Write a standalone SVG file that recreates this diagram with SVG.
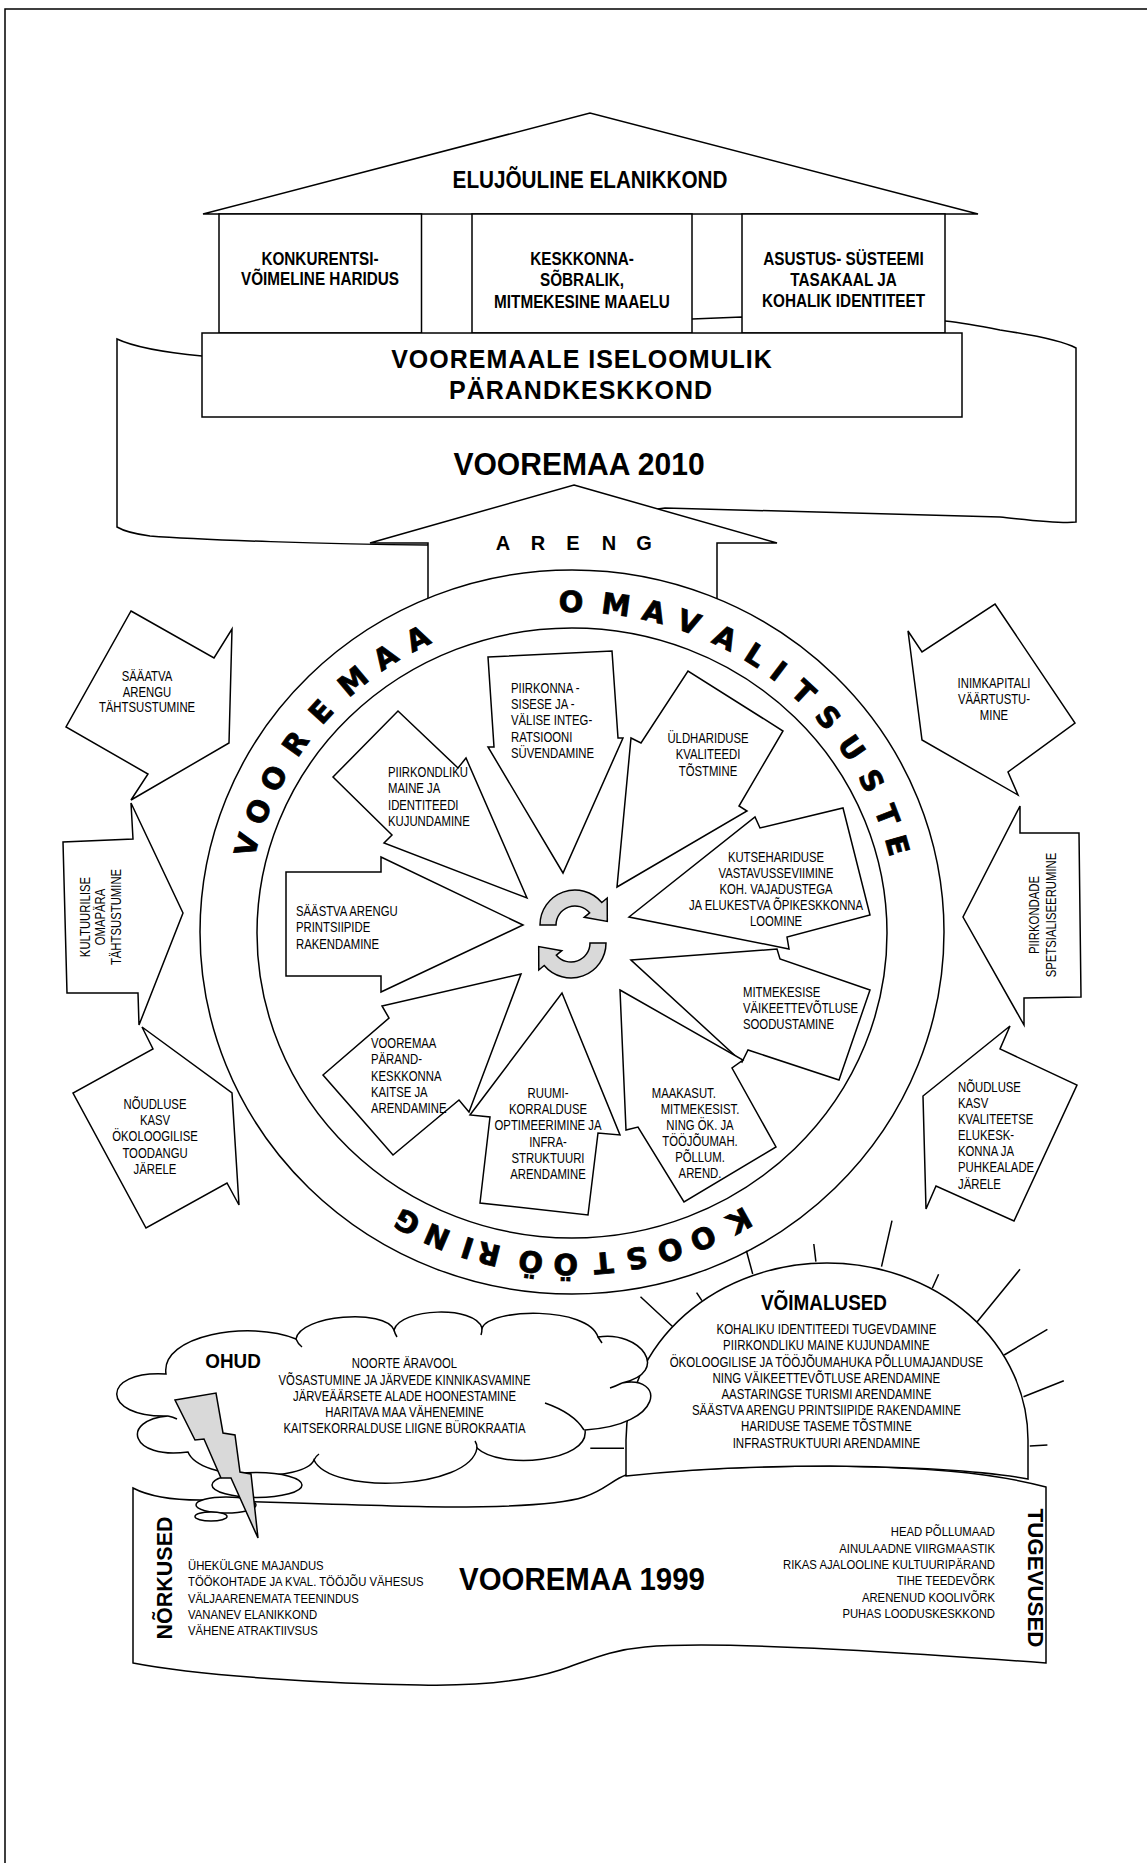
<svg xmlns="http://www.w3.org/2000/svg" width="1147" height="1863" viewBox="0 0 1147 1863">
<style>
.s{fill:#fff;stroke:#000;stroke-width:1.5;stroke-linejoin:miter}
.ln{fill:none;stroke:#000;stroke-width:1.5}
.t{font-family:"Liberation Sans",Arial,sans-serif;font-size:14px;fill:#000}
.m{text-anchor:middle}
.e{text-anchor:end}
.b{font-weight:bold}
.r{font-family:"DejaVu Sans","Liberation Sans",sans-serif;font-weight:bold;font-size:29px;text-anchor:middle;fill:#000;stroke:#000;stroke-width:0.8}
.g{fill:#d9d9d9;stroke:#000;stroke-width:1.5}
</style>
<defs>
<path id="ring" d="M245,933 A327,321 0 1 1 899,933 A327,321 0 1 1 245,933"/>
</defs>
<rect width="1147" height="1863" fill="#fff"/>
<path class="ln" d="M5,1863 V9 H1147" stroke-width="2"/>

<g id="banner2010">
<path class="s" d="M117,339 C134,347 160,352 202,356 C400,345 600,322 692,319 L742,317 L945,321 C965,323 985,327 1000,330 C1040,336 1065,342 1076,348 L1076,522 C1060,524 1030,520 1000,517 L665,508 L574,520 L427,545 C330,544 200,540 150,536 C135,534 122,530 117,527 Z"/>
<text class="t b m" style="font-size:32px" transform="translate(579,475) scale(0.94,1)">VOOREMAA 2010</text>
</g>

<g id="house">
<polygon class="s" points="203,214 590,113 978,214"/>
<text class="t b m" style="font-size:23px" transform="translate(590,188) scale(0.9,1)">ELUJÕULINE ELANIKKOND</text>
<rect class="s" x="219" y="214" width="202.5" height="119"/>
<rect class="s" x="472" y="214" width="220" height="119"/>
<rect class="s" x="742" y="214" width="203" height="119"/>
<text class="t b m" style="font-size:18px" transform="translate(320,265) scale(0.85,1)"><tspan x="0" y="0">KONKURENTSI-</tspan><tspan x="0" y="20.5">VÕIMELINE HARIDUS</tspan></text>
<text class="t b m" style="font-size:18px" transform="translate(582,265) scale(0.85,1)"><tspan x="0" y="0">KESKKONNA-</tspan><tspan x="0" y="21.5">SÕBRALIK,</tspan><tspan x="0" y="43">MITMEKESINE MAAELU</tspan></text>
<text class="t b m" style="font-size:18px" transform="translate(843.5,265) scale(0.85,1)"><tspan x="0" y="0">ASUSTUS- SÜSTEEMI</tspan><tspan x="0" y="21.5">TASAKAAL JA</tspan><tspan x="0" y="42">KOHALIK IDENTITEET</tspan></text>
<rect class="s" x="202" y="333" width="760" height="84"/>
<text class="t b m" style="font-size:25px;letter-spacing:1px"><tspan x="582" y="368">VOOREMAALE ISELOOMULIK</tspan><tspan x="581" y="399">PÄRANDKESKKOND</tspan></text>
</g>

<g id="areng">
<polygon class="s" points="574,485 777,543 717,543 717,640 428,640 428,543 370,543"/>
<text class="t b m" style="font-size:20px" x="503 538 573 609 644" y="550">ARENG</text>
</g>

<g id="ring-wheel">
<ellipse class="s" cx="572" cy="932" rx="372" ry="362" stroke-width="2"/>
<ellipse class="s" cx="572" cy="933" rx="315" ry="305"/>
</g>

<g id="ring-text">
<text class="r"><textPath href="#ring" startOffset="86.5">V</textPath></text>
<text class="r"><textPath href="#ring" startOffset="120.5">O</textPath></text>
<text class="r"><textPath href="#ring" startOffset="156.1">O</textPath></text>
<text class="r"><textPath href="#ring" startOffset="195.7">R</textPath></text>
<text class="r"><textPath href="#ring" startOffset="235.3">E</textPath></text>
<text class="r"><textPath href="#ring" startOffset="278.2">M</textPath></text>
<text class="r"><textPath href="#ring" startOffset="317.3">A</textPath></text>
<text class="r"><textPath href="#ring" startOffset="353.4">A</textPath></text>
<text class="r"><textPath href="#ring" startOffset="507.8">O</textPath></text>
<text class="r"><textPath href="#ring" startOffset="551.9">M</textPath></text>
<text class="r"><textPath href="#ring" startOffset="589.3">A</textPath></text>
<text class="r"><textPath href="#ring" startOffset="624.3">V</textPath></text>
<text class="r"><textPath href="#ring" startOffset="662.8">A</textPath></text>
<text class="r"><textPath href="#ring" startOffset="696.7">L</textPath></text>
<text class="r"><textPath href="#ring" startOffset="723.8">I</textPath></text>
<text class="r"><textPath href="#ring" startOffset="755.5">T</textPath></text>
<text class="r"><textPath href="#ring" startOffset="789.4">S</textPath></text>
<text class="r"><textPath href="#ring" startOffset="826.8">U</textPath></text>
<text class="r"><textPath href="#ring" startOffset="864.1">S</textPath></text>
<text class="r"><textPath href="#ring" startOffset="900.8">T</textPath></text>
<text class="r"><textPath href="#ring" startOffset="931.4">E</textPath></text>
<text class="r"><textPath href="#ring" startOffset="1356.6">K</textPath></text>
<text class="r"><textPath href="#ring" startOffset="1395.7">O</textPath></text>
<text class="r"><textPath href="#ring" startOffset="1429.6">O</textPath></text>
<text class="r"><textPath href="#ring" startOffset="1463">S</textPath></text>
<text class="r"><textPath href="#ring" startOffset="1495.8">T</textPath></text>
<text class="r"><textPath href="#ring" startOffset="1532.5">Ö</textPath></text>
<text class="r"><textPath href="#ring" startOffset="1566.4">Ö</textPath></text>
<text class="r"><textPath href="#ring" startOffset="1607.7">R</textPath></text>
<text class="r"><textPath href="#ring" startOffset="1629.2">I</textPath></text>
<text class="r"><textPath href="#ring" startOffset="1660.9">N</textPath></text>
<text class="r"><textPath href="#ring" startOffset="1693.1">G</textPath></text>
</g>

<g id="a-piirkonna">
<polygon class="s" points="488,657 612,651 618,738 623,738 563,873 488,747 494,747"/>
<text class="t" transform="translate(511,693) scale(0.81,1)"><tspan x="0" y="0">PIIRKONNA -</tspan><tspan x="0" y="16.2">SISESE JA  -</tspan><tspan x="0" y="32.4">VÄLISE  INTEG-</tspan><tspan x="0" y="48.6">RATSIOONI</tspan><tspan x="0" y="64.8">SÜVENDAMINE</tspan></text>
</g>
<g id="a-yldhariduse">
<polygon class="s" points="617,887 631,738 641,743 688,671 783,731 739,806 747,811"/>
<text class="t m" transform="translate(708,743) scale(0.81,1)"><tspan x="0" y="0">ÜLDHARIDUSE</tspan><tspan x="0" y="16.3">KVALITEEDI</tspan><tspan x="0" y="32.6">TÕSTMINE</tspan></text>
</g>
<g id="a-kutsehariduse">
<polygon class="s" points="629,917 755,817 760,828 843,808 870,915 787,937 789,949"/>
<text class="t m" transform="translate(776,862) scale(0.81,1)"><tspan x="0" y="0">KUTSEHARIDUSE</tspan><tspan x="0" y="16">VASTAVUSSEVIIMINE</tspan><tspan x="0" y="32">KOH. VAJADUSTEGA</tspan><tspan x="0" y="48">JA ELUKESTVA ÕPIKESKKONNA</tspan><tspan x="0" y="64">LOOMINE</tspan></text>
</g>
<g id="a-mitmekesise">
<polygon class="s" points="631,960 777,949 780,959 870,990 839,1080 748,1050 742,1062"/>
<text class="t" transform="translate(743,997) scale(0.81,1)"><tspan x="0" y="0">MITMEKESISE</tspan><tspan x="0" y="16.2">VÄIKEETTEVÕTLUSE</tspan><tspan x="0" y="32.4">SOODUSTAMINE</tspan></text>
</g>
<g id="a-maakasut">
<polygon class="s" points="620,990 743,1060 732,1068 776,1147 684,1202 638,1127 626,1130"/>
<text class="t m" transform="translate(700,1098) scale(0.81,1)"><tspan x="-20" y="0">MAAKASUT.</tspan><tspan x="0" y="16.1">MITMEKESIST.</tspan><tspan x="0" y="32.2">NING ÖK. JA</tspan><tspan x="0" y="48.3">TÖÖJÕUMAH.</tspan><tspan x="0" y="64.4">PÕLLUM.</tspan><tspan x="0" y="80.5">AREND.</tspan></text>
</g>
<g id="a-ruumi">
<polygon class="s" points="562,993 620,1135 598,1133 588,1215 480,1203 490,1117 470,1115"/>
<text class="t m" transform="translate(548,1098) scale(0.81,1)"><tspan x="0" y="0">RUUMI-</tspan><tspan x="0" y="16.2">KORRALDUSE</tspan><tspan x="0" y="32.4">OPTIMEERIMINE JA</tspan><tspan x="0" y="48.6">INFRA-</tspan><tspan x="0" y="64.8">STRUKTUURI</tspan><tspan x="0" y="81">ARENDAMINE</tspan></text>
</g>
<g id="a-parand">
<polygon class="s" points="521,974 382,1006 389,1018 323,1075 393,1155 459,1100 469,1112"/>
<text class="t" transform="translate(371,1048) scale(0.81,1)"><tspan x="0" y="0">VOOREMAA</tspan><tspan x="0" y="16.3">PÄRAND-</tspan><tspan x="0" y="32.6">KESKKONNA</tspan><tspan x="0" y="48.9">KAITSE JA</tspan><tspan x="0" y="65.2">ARENDAMINE</tspan></text>
</g>
<g id="a-saastva">
<polygon class="s" points="523,925 381,857 381,872 286,872 286,976 381,976 381,992"/>
<text class="t" transform="translate(296,916) scale(0.81,1)"><tspan x="0" y="0">SÄÄSTVA  ARENGU</tspan><tspan x="0" y="16.3">PRINTSIIPIDE</tspan><tspan x="0" y="32.6">RAKENDAMINE</tspan></text>
</g>
<g id="a-piirkondliku">
<polygon class="s" points="527,898 466,758 458,768 398,711 333,777 392,835 384,843"/>
<text class="t" transform="translate(388,777) scale(0.81,1)"><tspan x="0" y="0">PIIRKONDLIKU</tspan><tspan x="0" y="16.3">MAINE  JA</tspan><tspan x="0" y="32.6">IDENTITEEDI</tspan><tspan x="0" y="48.9">KUJUNDAMINE</tspan></text>
</g>

<g id="cycle">
<path id="cyc" class="g" d="M540,925 A35,35 0 0 1 601.8,902.5 L607.2,898 L607.3,921.4 L584.2,917.3 L589.6,912.8 A19,19 0 0 0 556,925 Z"/>
<use href="#cyc" transform="rotate(180 573 934)"/>
</g>

<g id="o-saaatva">
<polygon class="s" points="131,611 214,658 232,629 229,743 131,800 148,774 66,727"/>
<text class="t m" transform="translate(147,681) scale(0.81,1)"><tspan x="0" y="0">SÄÄATVA</tspan><tspan x="0" y="15.7">ARENGU</tspan><tspan x="0" y="31.4">TÄHTSUSTUMINE</tspan></text>
</g>
<g id="o-kultuurilise">
<polygon class="s" points="131,803 183,913 139,1025 138,993 67,993 63,842 133,839"/>
<text class="t m" transform="translate(90,917) rotate(-90) scale(0.81,1)"><tspan x="0" y="0">KULTUURILISE</tspan><tspan x="0" y="15.5">OMAPÄRA</tspan><tspan x="0" y="31">TÄHTSUSTUMINE</tspan></text>
</g>
<g id="o-okoloogilise">
<polygon class="s" points="142,1027 232,1093 239,1205 227,1183 146,1228 73,1093 153,1049"/>
<text class="t m" transform="translate(155,1109) scale(0.81,1)"><tspan x="0" y="0">NÕUDLUSE</tspan><tspan x="0" y="16.2">KASV</tspan><tspan x="0" y="32.4">ÖKOLOOGILISE</tspan><tspan x="0" y="48.6">TOODANGU</tspan><tspan x="0" y="64.8">JÄRELE</tspan></text>
</g>
<g id="o-inimkapitali">
<polygon class="s" points="995,604 1075,723 1008,772 1018,795 922,740 908,631 922,652"/>
<text class="t m" transform="translate(994,688) scale(0.81,1)"><tspan x="0" y="0">INIMKAPITALI</tspan><tspan x="0" y="16.2">VÄÄRTUSTU-</tspan><tspan x="0" y="32.4">MINE</tspan></text>
</g>
<g id="o-piirkondade">
<polygon class="s" points="1020,806 1020,833 1079,833 1081,997 1024,998 1024,1025 963,917"/>
<text class="t m" transform="translate(1039,915) rotate(-90) scale(0.81,1)"><tspan x="0" y="0">PIIRKONDADE</tspan><tspan x="0" y="17">SPETSIALISEERUMINE</tspan></text>
</g>
<g id="o-kvaliteetse">
<polygon class="s" points="1010,1026 1000,1049 1077,1085 1014,1221 936,1186 926,1209 923,1096"/>
<text class="t" transform="translate(958,1092) scale(0.81,1)"><tspan x="0" y="0">NÕUDLUSE</tspan><tspan x="0" y="16.1">KASV</tspan><tspan x="0" y="32.2">KVALITEETSE</tspan><tspan x="0" y="48.3">ELUKESK-</tspan><tspan x="0" y="64.4">KONNA  JA</tspan><tspan x="0" y="80.5">PUHKEALADE</tspan><tspan x="0" y="96.6">JÄRELE</tspan></text>
</g>

<g id="vooremaa1999">
<path class="s" d="M133,1488 C150,1497 175,1500 200,1500 C300,1503 400,1507 450,1507 C520,1507 565,1503 584,1497 C605,1490 612,1480 626,1475 C700,1468 780,1466 830,1466 C920,1467 990,1472 1046,1487 L1046,1663 C900,1652 720,1640 645,1647 C610,1650 590,1660 560,1670 C520,1683 470,1686 420,1685 C330,1684 200,1676 133,1663 Z"/>
<text class="t b m" style="font-size:32px" transform="translate(582,1590) scale(0.92,1)">VOOREMAA 1999</text>
<text class="t b m" style="font-size:22px" transform="translate(171.6,1578) rotate(-90)" textLength="123" lengthAdjust="spacingAndGlyphs">NÕRKUSED</text>
<text class="t b m" style="font-size:22px" transform="translate(1028.4,1578) rotate(90)" textLength="139" lengthAdjust="spacingAndGlyphs">TUGEVUSED</text>
<text class="t" style="font-size:13px" transform="translate(188,1570.2) scale(0.87,1)"><tspan x="0" y="0">ÜHEKÜLGNE MAJANDUS</tspan><tspan x="0" y="16.25">TÖÖKOHTADE JA KVAL. TÖÖJÕU VÄHESUS</tspan><tspan x="0" y="32.5">VÄLJAARENEMATA TEENINDUS</tspan><tspan x="0" y="48.75">VANANEV ELANIKKOND</tspan><tspan x="0" y="65">VÄHENE ATRAKTIIVSUS</tspan></text>
<text class="t e" style="font-size:13px" transform="translate(995,1536.4) scale(0.87,1)"><tspan x="0" y="0">HEAD PÕLLUMAAD</tspan><tspan x="0" y="16.3">AINULAADNE VIIRGMAASTIK</tspan><tspan x="0" y="32.6">RIKAS AJALOOLINE KULTUURIPÄRAND</tspan><tspan x="0" y="48.9">TIHE TEEDEVÕRK</tspan><tspan x="0" y="65.2">ARENENUD KOOLIVÕRK</tspan><tspan x="0" y="81.5">PUHAS LOODUSKESKKOND</tspan></text>
</g>

<g id="voimalused">
<path class="ln" d="M640.5,1296.7 L672.8,1326.7 M696.6,1292.7 L701.9,1300.7 M746.4,1250.7 L752.7,1274 M813.8,1244 L815.9,1261.7 M892,1220.7 L881.5,1266.7 M938.6,1274.3 L932.3,1288.3 M1020,1269.3 L977.2,1321.7 M1047.4,1329.3 L1004.2,1355 M1063.8,1380.7 L1023.5,1396.7 M1047.4,1445 L1029.8,1446 M590.3,1448.3 L624,1448.3"/>
<path class="s" d="M626,1476 L626,1440 A201,177 0 0 1 1028,1440 L1028,1479 C990,1472 920,1467 830,1466 C780,1466 700,1468 626,1476 Z"/>
<text class="t b m" style="font-size:22px" transform="translate(824,1310) scale(0.86,1)">VÕIMALUSED</text>
<text class="t m" transform="translate(826.4,1334.3) scale(0.82,1)"><tspan x="0" y="0">KOHALIKU IDENTITEEDI TUGEVDAMINE</tspan><tspan x="0" y="16.2">PIIRKONDLIKU MAINE KUJUNDAMINE</tspan><tspan x="0" y="32.4">ÖKOLOOGILISE JA TÖÖJÕUMAHUKA PÕLLUMAJANDUSE</tspan><tspan x="0" y="48.6">NING  VÄIKEETTEVÕTLUSE ARENDAMINE</tspan><tspan x="0" y="64.8">AASTARINGSE TURISMI ARENDAMINE</tspan><tspan x="0" y="81">SÄÄSTVA ARENGU PRINTSIIPIDE RAKENDAMINE</tspan><tspan x="0" y="97.2">HARIDUSE TASEME TÕSTMINE</tspan><tspan x="0" y="113.4">INFRASTRUKTUURI ARENDAMINE</tspan></text>
</g>

<g id="ohud">
<path class="s" d="M166,1374 C160,1335 250,1320 296,1339 C300,1315 385,1308 394,1330 C400,1308 475,1305 482,1328 C490,1308 588,1306 598,1337 C640,1330 672,1372 622,1383 C665,1375 665,1425 585,1430 C590,1462 500,1470 477,1448 C470,1490 330,1495 314,1460 C305,1482 200,1482 188,1452 C130,1460 120,1420 168,1416 C100,1418 100,1370 166,1374 Z"/>
<path class="ln" d="M296,1339 q2,5 6,8 M394,1330 q1,4 3,7 M482,1328 q0,4 -1,7 M598,1337 q2,3 4,6 M545,1403 C565,1410 578,1420 584,1430 M622,1383 q-6,3 -12,5 M168,1416 q5,1 9,3 M314,1460 q2,-4 5,-6 M477,1448 q0,-4 -2,-7"/>
<text class="t b m" style="font-size:21px" transform="translate(233,1367.5) scale(0.9,1)">OHUD</text>
<text class="t m" transform="translate(404.5,1368.3) scale(0.81,1)"><tspan x="0" y="0">NOORTE ÄRAVOOL</tspan><tspan x="0" y="16.25">VÕSASTUMINE JA JÄRVEDE KINNIKASVAMINE</tspan><tspan x="0" y="32.5">JÄRVEÄÄRSETE ALADE HOONESTAMINE</tspan><tspan x="0" y="48.75">HARITAVA MAA VÄHENEMINE</tspan><tspan x="0" y="65">KAITSEKORRALDUSE LIIGNE BÜROKRAATIA</tspan></text>
<ellipse class="s" cx="257" cy="1485" rx="45" ry="12.5"/>
<ellipse class="s" cx="226" cy="1505" rx="30" ry="8"/>
<ellipse class="s" cx="211" cy="1516.5" rx="16" ry="4.5"/>
<polygon class="g" points="175,1400 216,1393 223,1433 235,1435 240,1472 251,1474 258,1538 231,1478 221,1478 204,1439 195,1440"/>
</g>
</svg>
